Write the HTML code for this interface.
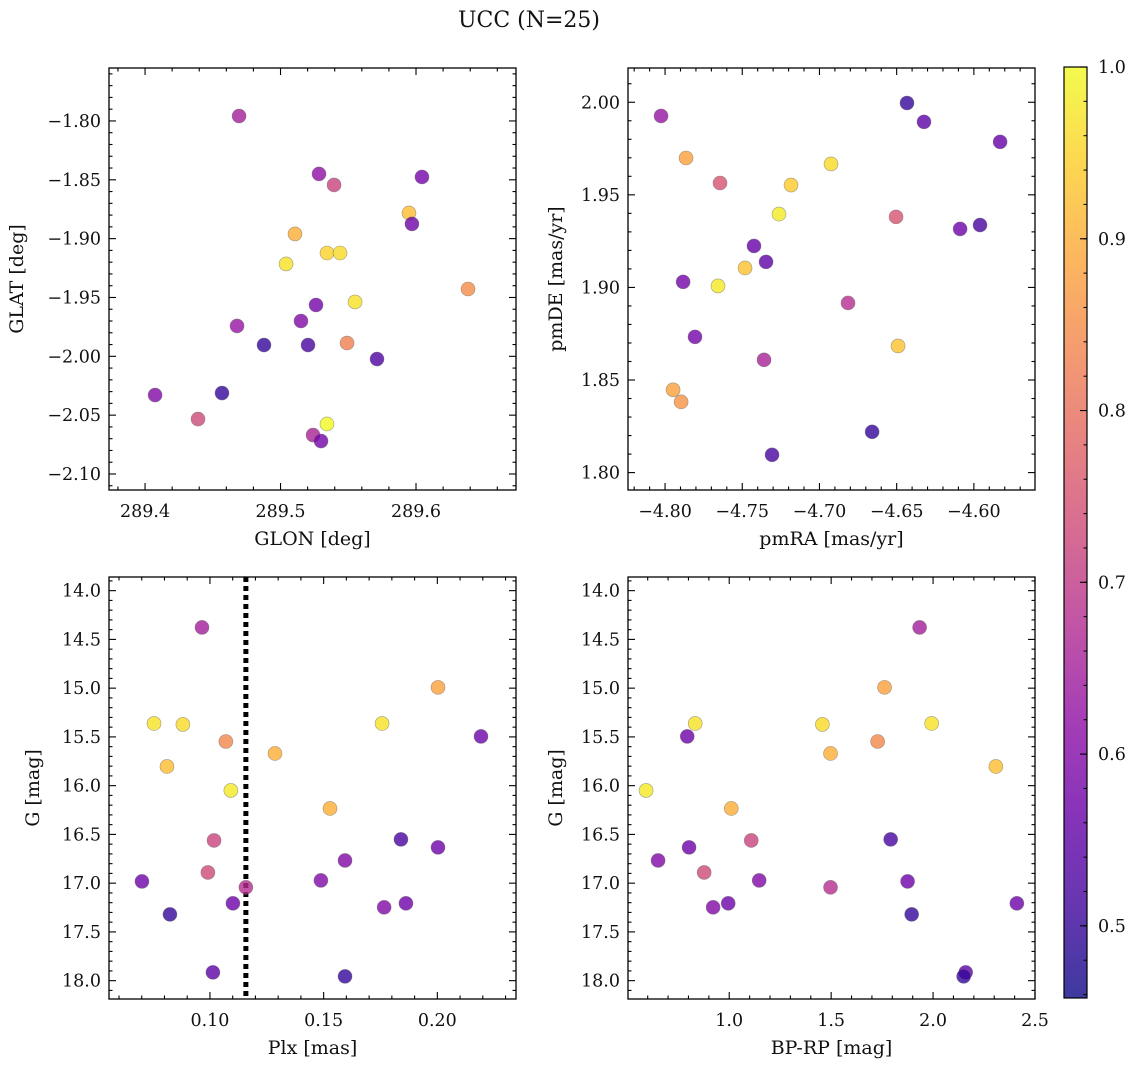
<!DOCTYPE html>
<html><head><meta charset="utf-8"><title>UCC (N=25)</title>
<style>
html,body{margin:0;padding:0;background:#fff;}
svg{display:block;font-family:"DejaVu Serif","Liberation Serif",serif;}
</style></head>
<body>
<svg id="fig" width="1136" height="1067" viewBox="0 0 1136 1067" xmlns="http://www.w3.org/2000/svg">
<rect width="1136" height="1067" fill="#fff"/>
<text x="529" y="27" font-size="22" text-anchor="middle" fill="#111">UCC (N=25)</text>
</svg>
<script>
// ---- Data ----
const tlGlon = [289.4694,289.5284,289.5395,289.6044,289.5948,289.5107,289.5970,289.5343,289.5439,289.5041,289.5550,289.6384,289.5262,289.4679,289.5151,289.4878,289.5203,289.5491,289.5712,289.4074,289.4568,289.4391,289.5343,289.5240,289.5299];
const tlGlat = [-1.7958,-1.8450,-1.8544,-1.8476,-1.8782,-1.8960,-1.8875,-1.9122,-1.9122,-1.9215,-1.9538,-1.9428,-1.9564,-1.9742,-1.9700,-1.9904,-1.9904,-1.9887,-2.0023,-2.0329,-2.0312,-2.0533,-2.0575,-2.0669,-2.0720];
const tlProb = [0.65,0.62,0.72,0.58,0.92,0.90,0.57,0.95,0.96,0.97,0.97,0.85,0.58,0.63,0.60,0.50,0.52,0.83,0.53,0.60,0.50,0.73,1.00,0.66,0.58];
const trPmra = [-4.8026,-4.6433,-4.6323,-4.5830,-4.7864,-4.7644,-4.6925,-4.7184,-4.7262,-4.6504,-4.6089,-4.5960,-4.7424,-4.7482,-4.7346,-4.7657,-4.7883,-4.6815,-4.7806,-4.6491,-4.7359,-4.7948,-4.7896,-4.6659,-4.7307];
const trPmde = [1.9926,1.9996,1.9894,1.9786,1.9699,1.9564,1.9667,1.9553,1.9396,1.9381,1.9316,1.9337,1.9224,1.9105,1.9138,1.9008,1.9030,1.8916,1.8733,1.8684,1.8609,1.8447,1.8382,1.8220,1.8096];
const trProb = [0.63,0.50,0.55,0.56,0.88,0.75,0.96,0.94,0.98,0.75,0.57,0.52,0.56,0.93,0.55,0.98,0.58,0.68,0.58,0.93,0.66,0.88,0.86,0.50,0.52];
const plx  = [0.0965,0.2003,0.0754,0.0881,0.1757,0.2192,0.1070,0.1286,0.0811,0.1092,0.1528,0.1018,0.1840,0.2003,0.1594,0.0991,0.0701,0.1488,0.1158,0.1101,0.1862,0.1766,0.0824,0.1013,0.1594];
const bprp = [1.934,1.762,0.833,1.457,1.993,0.794,1.728,1.497,2.308,0.592,1.010,1.108,1.792,0.803,0.651,0.877,1.875,1.147,1.497,0.995,2.411,0.921,1.895,2.160,2.150];
const gmag = [14.377,14.992,15.362,15.372,15.362,15.495,15.547,15.670,15.803,16.049,16.234,16.562,16.551,16.633,16.767,16.890,16.982,16.972,17.043,17.207,17.207,17.248,17.320,17.915,17.956];
const botProb = [0.65,0.88,0.97,0.96,0.97,0.57,0.84,0.90,0.92,0.98,0.90,0.72,0.52,0.57,0.60,0.73,0.57,0.60,0.68,0.57,0.57,0.60,0.50,0.55,0.50];
const plxLine = [0.1158];
const cbTicks = [0.5,0.6,0.7,0.8,0.9,1.0];
const cbRange = [0.458,1.0];

// ---- Helpers ----
const NS = "http://www.w3.org/2000/svg";
const svg = document.getElementById('fig');
function mk(tag, attrs, parent){ const e=document.createElementNS(NS,tag); for(const k in attrs) e.setAttribute(k,attrs[k]); (parent||svg).appendChild(e); return e; }
const plasma = [[13,8,135],[65,4,157],[106,0,168],[143,13,164],[177,42,144],[204,71,120],[225,100,98],[242,132,75],[252,166,54],[252,206,37],[240,249,33]];
function cmap(t){ t=Math.max(0,Math.min(1,t)); const f=t*10, i=Math.min(9,Math.floor(f)), r=f-i;
  const a=plasma[i], b=plasma[i+1]; return a.map((v,k)=>Math.round(v+(b[k]-v)*r)); }
function colorOf(p){ const c=cmap((p-cbRange[0])/(cbRange[1]-cbRange[0])); return `rgb(${c[0]},${c[1]},${c[2]})`; }
function fmt(v,d){ const s=Math.abs(v).toFixed(d); return (v< -1e-9?'\u2212':'')+s; }

function panel(cfg){
  const g = mk('g',{});
  
  
  const {x0,x1,y0,y1} = cfg;
  const sx = v => x0 + (v-cfg.xd[0])/(cfg.xd[1]-cfg.xd[0])*(x1-x0);
  const sy = cfg.yInv ? (v => y0 + (v-cfg.yd[0])/(cfg.yd[1]-cfg.yd[0])*(y1-y0))
                      : (v => y1 - (v-cfg.yd[0])/(cfg.yd[1]-cfg.yd[0])*(y1-y0));
  const ticks = mk('g',{stroke:'#000','stroke-width':1.1},g);
  
  
  const xlo=Math.min(...cfg.xd), xhi=Math.max(...cfg.xd);
  for(let k=Math.ceil(xlo/cfg.xmin-1e-6); k*cfg.xmin<=xhi+1e-9; k++){
    const v=k*cfg.xmin, px=sx(v); if(px<x0-0.5||px>x1+0.5) continue;
    const major = Math.abs(v/cfg.xmaj - Math.round(v/cfg.xmaj))<1e-6;
    const L = major?7:3.5;
    mk('line',{x1:px,x2:px,y1:y1,y2:y1-L},ticks); mk('line',{x1:px,x2:px,y1:y0,y2:y0+L},ticks);
    if(major){ const t=mk('text',{x:px,y:y1+27,'font-size':17.5,'text-anchor':'middle',fill:'#111',stroke:'none'},g); t.textContent=fmt(v,cfg.xdec);
        }
  }
  const ylo=Math.min(...cfg.yd), yhi=Math.max(...cfg.yd);
  for(let k=Math.ceil(ylo/cfg.ymin-1e-6); k*cfg.ymin<=yhi+1e-9; k++){
    const v=k*cfg.ymin, py=sy(v); if(py<y0-0.5||py>y1+0.5) continue;
    const major = Math.abs(v/cfg.ymaj - Math.round(v/cfg.ymaj))<1e-6;
    const L = major?7:3.5;
    mk('line',{x1:x0,x2:x0+L,y1:py,y2:py},ticks); mk('line',{x1:x1,x2:x1-L,y1:py,y2:py},ticks);
    if(major){ const t=mk('text',{x:x0-8,y:py+6,'font-size':17.5,'text-anchor':'end',fill:'#111',stroke:'none'},g); t.textContent=fmt(v,cfg.ydec);
        }
  }
  if(cfg.vline){ const l=mk('line',{x1:sx(cfg.vline[0]),x2:sx(cfg.vline[0]),y1:y0,y2:y1,stroke:'#000','stroke-width':5,'stroke-dasharray':'5 4'},g);
      }
  const pts = mk('g',{},g);
  
  
  for(let i=0;i<cfg.xs.length;i++){
    const c=mk('circle',{cx:sx(cfg.xs[i]),cy:sy(cfg.ys[i]),r:7,fill:colorOf(cfg.cs[i]),'fill-opacity':0.8,stroke:'#666','stroke-opacity':0.6,'stroke-width':0.6},pts);
    
    
  }
  const fr=mk('rect',{x:x0,y:y0,width:x1-x0,height:y1-y0,fill:'none',stroke:'#000','stroke-width':1.3},g);
   
  const xl=mk('text',{x:(x0+x1)/2,y:y1+55,'font-size':19,'text-anchor':'middle',fill:'#111'},g); xl.textContent=cfg.xlabel;
   
  const yc=(y0+y1)/2;
  const yl=mk('text',{x:cfg.ylx,y:yc,'font-size':19,'text-anchor':'middle',fill:'#111',transform:`rotate(-90 ${cfg.ylx} ${yc})`},g); yl.textContent=cfg.ylabel;
   
}

panel({name:'glon-glat-panel',x0:109,x1:516,y0:68,y1:490,xd:[289.3734,289.6738],yd:[-2.1136,-1.755],xmaj:0.1,xmin:0.02,ymaj:0.05,ymin:0.01,xdec:1,ydec:2,
  xs:tlGlon,ys:tlGlat,cs:tlProb,xlabel:'GLON [deg]',ylabel:'GLAT [deg]',ylx:23});
panel({name:'pm-panel',x0:628,x1:1035,y0:68,y1:490,xd:[-4.824,-4.5604],yd:[1.7906,2.0185],xmaj:0.05,xmin:0.01,ymaj:0.05,ymin:0.01,xdec:2,ydec:2,
  xs:trPmra,ys:trPmde,cs:trProb,xlabel:'pmRA [mas/yr]',ylabel:'pmDE [mas/yr]',ylx:562});
panel({name:'plx-g-panel',x0:109,x1:516,y0:577,y1:999,xd:[0.0556,0.2346],yd:[13.86,18.188],yInv:true,xmaj:0.05,xmin:0.01,ymaj:0.5,ymin:0.1,xdec:2,ydec:1,
  xs:plx,ys:gmag,cs:botProb,xlabel:'Plx [mas]',ylabel:'G [mag]',ylx:39,vline:plxLine});
panel({name:'cmd-panel',x0:628,x1:1035,y0:577,y1:999,xd:[0.5034,2.5],yd:[13.86,18.188],yInv:true,xmaj:0.5,xmin:0.1,ymaj:0.5,ymin:0.1,xdec:1,ydec:1,
  xs:bprp,ys:gmag,cs:botProb,xlabel:'BP-RP [mag]',ylabel:'G [mag]',ylx:562});

// ---- Colorbar ----
(function(){
  const cx0=1064,cx1=1087,cy0=67,cy1=998;
  const g=mk('g',{});
  
  
  const defs=mk('defs',{},g);
  const lg=mk('linearGradient',{id:'cbg',x1:0,y1:1,x2:0,y2:0},defs);
  for(let i=0;i<=20;i++){ const t=i/20; const p=cbRange[0]+t*(cbRange[1]-cbRange[0]);
    mk('stop',{offset:t,'stop-color':colorOf(p),'stop-opacity':0.8},lg); }
  const r=mk('rect',{x:cx0,y:cy0,width:cx1-cx0,height:cy1-cy0,fill:'url(#cbg)',stroke:'#000','stroke-width':1.2},g);
   
  const sy=v=>cy1-(v-cbRange[0])/(cbRange[1]-cbRange[0])*(cy1-cy0);
  for(let k=Math.ceil(cbRange[0]/0.02-1e-6); k*0.02<=cbRange[1]+1e-9; k++){
    const y=sy(k*0.02); mk('line',{x1:cx1,x2:cx1-3.5,y1:y,y2:y,stroke:'#000','stroke-width':1},g);
  }
  cbTicks.forEach(v=>{ const y=sy(v);
    mk('line',{x1:cx1,x2:cx1-7,y1:y,y2:y,stroke:'#000','stroke-width':1.1},g);
    const t=mk('text',{x:cx1+11,y:y+6,'font-size':17.5,fill:'#111'},g); t.textContent=v.toFixed(1);
     
  });
})();
</script>
</body></html>
